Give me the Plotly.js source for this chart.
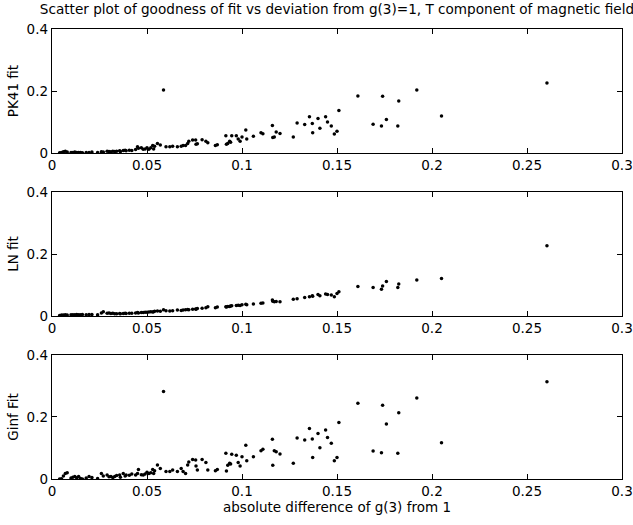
<!DOCTYPE html>
<html>
<head>
<meta charset="utf-8">
<script src="https://cdn.plot.ly/plotly-3.0.1.min.js"></script>
<style>html,body{margin:0;padding:0;background:#fff;}#chart{width:633px;height:525px;}</style>
</head>
<body>
<div id="chart"></div>
<script>
// absolute difference of g(3) from 1
const deviation = [0.004,0.005,0.006,0.007,0.008,0.010,0.011,0.012,0.013,0.014,0.015,0.016,0.018,0.0195,0.021,0.024,0.026,0.027,0.029,0.030,
0.031,0.032,0.033,0.034,0.0356,0.036,0.0375,0.0385,0.039,0.0407,0.042,0.044,0.045,0.0455,0.047,0.048,0.049,0.050,0.051,0.052,
0.053,0.0535,0.054,0.0555,0.057,0.0587,0.060,0.062,0.0635,0.066,0.068,0.069,0.0703,0.0714,0.072,0.074,0.0756,0.0758,0.0765,0.079,
0.081,0.082,0.086,0.087,0.0915,0.0918,0.0925,0.0935,0.094,0.0946,0.097,0.098,0.099,0.100,0.102,0.1025,0.106,0.110,0.111,0.116,
0.1162,0.117,0.118,0.120,0.127,0.129,0.133,0.1355,0.137,0.1372,0.140,0.141,0.144,0.145,0.147,0.1486,0.150,0.151,0.161,0.169,
0.1734,0.174,0.176,0.182,0.1825,0.192,0.205,0.2605];
const pk41Fit = [0.001,0.002,0.004,0.006,0.003,0.002,0.002,0.003,0.002,0.002,0.002,0.001,0.002,0.002,0.003,0.002,0.004,0.003,0.006,0.005,
0.004,0.006,0.005,0.006,0.007,0.005,0.008,0.009,0.007,0.009,0.008,0.011,0.020,0.015,0.017,0.012,0.013,0.017,0.012,0.017,
0.024,0.013,0.022,0.031,0.026,0.203,0.020,0.020,0.022,0.020,0.022,0.024,0.024,0.031,0.038,0.042,0.042,0.028,0.030,0.043,
0.038,0.033,0.024,0.027,0.056,0.028,0.031,0.038,0.035,0.056,0.056,0.045,0.038,0.052,0.074,0.045,0.054,0.065,0.062,0.089,
0.050,0.052,0.068,0.063,0.052,0.097,0.092,0.117,0.095,0.065,0.111,0.080,0.117,0.100,0.087,0.061,0.070,0.137,0.184,0.093,
0.087,0.183,0.108,0.087,0.168,0.203,0.119,0.226];
const lnFit = [0.002,0.003,0.003,0.004,0.003,0.004,0.004,0.004,0.005,0.004,0.004,0.005,0.004,0.005,0.005,0.004,0.010,0.014,0.009,0.010,
0.008,0.009,0.007,0.007,0.008,0.007,0.008,0.009,0.008,0.009,0.009,0.010,0.011,0.010,0.011,0.011,0.012,0.012,0.013,0.014,
0.013,0.014,0.015,0.016,0.015,0.020,0.017,0.016,0.017,0.019,0.018,0.019,0.020,0.021,0.020,0.022,0.023,0.022,0.024,0.025,
0.027,0.030,0.027,0.029,0.030,0.029,0.031,0.031,0.032,0.033,0.034,0.035,0.034,0.036,0.038,0.036,0.039,0.041,0.042,0.052,
0.048,0.046,0.047,0.046,0.054,0.056,0.060,0.062,0.065,0.064,0.069,0.065,0.071,0.069,0.068,0.062,0.073,0.078,0.095,0.092,
0.086,0.097,0.111,0.092,0.103,0.116,0.121,0.227];
const ginfFit = [0.000,0.001,0.010,0.018,0.020,0.003,0.006,0.008,0.004,0.008,0.002,0.000,0.003,0.008,0.005,0.002,0.018,0.010,0.013,0.007,
0.008,0.005,0.008,0.011,0.013,0.006,0.018,0.010,0.013,0.012,0.016,0.013,0.018,0.031,0.014,0.013,0.016,0.022,0.018,0.020,
0.031,0.018,0.027,0.045,0.034,0.282,0.024,0.024,0.029,0.024,0.034,0.024,0.018,0.045,0.055,0.063,0.061,0.042,0.029,0.063,
0.053,0.029,0.027,0.031,0.083,0.026,0.044,0.051,0.048,0.080,0.077,0.053,0.042,0.072,0.109,0.059,0.072,0.091,0.096,0.128,
0.044,0.091,0.088,0.081,0.051,0.132,0.126,0.163,0.129,0.069,0.147,0.101,0.158,0.134,0.115,0.059,0.069,0.182,0.244,0.090,
0.085,0.238,0.177,0.083,0.214,0.261,0.117,0.314];

const xTickVals = [0,0.05,0.1,0.15,0.2,0.25,0.3];
const xTickText = ['0','0.05','0.1','0.15','0.2','0.25','0.3'];
const yTickVals = [0,0.2,0.4];
const yTickText = ['0','0.2','0.4'];
const panelTitles = ['PK41 fit','LN fit','Ginf Fit'];
const titleText = 'Scatter plot of goodness of fit vs deviation from g(3)=1, T component of magnetic field';
const xTitleText = 'absolute difference of g(3) from 1';

const series = [pk41Fit, lnFit, ginfFit];
const FONT = 'DejaVu Sans, Liberation Sans, Arial, sans-serif';
const traces = series.map((ys, i) => ({
  type: 'scatter', mode: 'markers',
  x: deviation, y: ys,
  xaxis: i === 0 ? 'x' : 'x' + (i + 1),
  yaxis: i === 0 ? 'y' : 'y' + (i + 1),
  marker: {color: '#000', size: 3.5},
  hoverinfo: 'x+y', showlegend: false
}));

const domains = [[0.7244, 1], [0.3622, 0.6378], [0, 0.2756]];
const layout = {
  width: 633, height: 525,
  margin: {l: 52, r: 11, t: 29, b: 46},
  paper_bgcolor: '#fff', plot_bgcolor: '#fff',
  font: {family: FONT, size: 13, color: '#000'},
  title: {text: titleText, font: {family: FONT, size: 13.6, color: '#000'},
          x: 0.5, xanchor: 'center', xref: 'paper', y: 1 - 9/525, yref: 'container', yanchor: 'middle'},
  showlegend: false
};
domains.forEach((d, i) => {
  const s = i === 0 ? '' : String(i + 1);
  layout['xaxis' + s] = {
    domain: [0, 1], anchor: 'y' + s, range: [0, 0.3],
    tickvals: xTickVals, ticktext: xTickText, ticks: 'inside', ticklen: 5, tickwidth: 1, tickcolor: '#000',
    showline: true, linecolor: '#000', linewidth: 1.2, mirror: 'allticks',
    showgrid: false, zeroline: false, tickfont: {family: FONT, size: 13.5, color: '#000'},
    title: i === 2 ? {text: xTitleText, font: {family: FONT, size: 13.5, color: '#000'}, standoff: 2} : {text: ''}
  };
  layout['yaxis' + s] = {
    domain: d, anchor: 'x' + s, range: [0, 0.4],
    tickvals: yTickVals, ticktext: yTickText, ticks: 'inside', ticklen: 5, tickwidth: 1, tickcolor: '#000',
    showline: true, linecolor: '#000', linewidth: 1.2, mirror: 'allticks',
    showgrid: false, zeroline: false, tickfont: {family: FONT, size: 13.5, color: '#000'},
    title: {text: panelTitles[i], font: {family: FONT, size: 13.5, color: '#000'}, standoff: 4}
  };
});

Plotly.newPlot('chart', traces, layout, {displayModeBar: false, staticPlot: true});
</script>
</body>
</html>
